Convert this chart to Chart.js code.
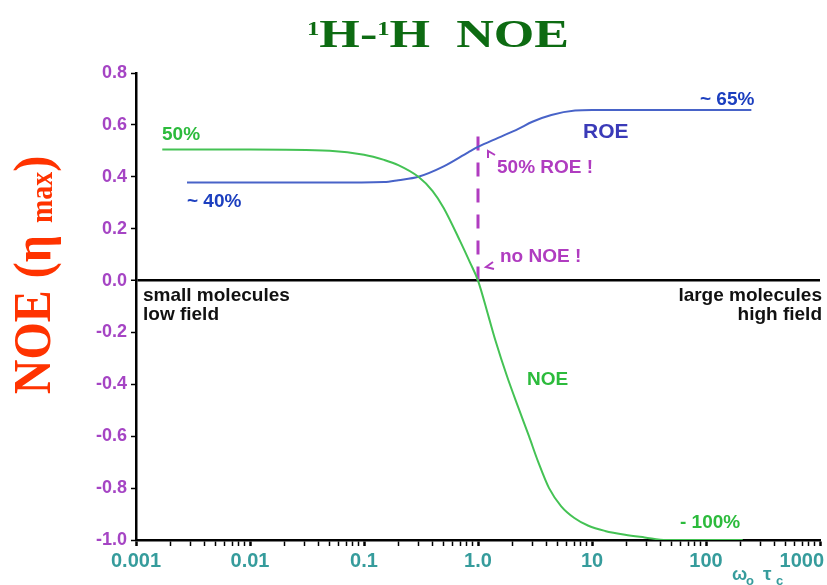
<!DOCTYPE html>
<html>
<head>
<meta charset="utf-8">
<script src="https://cdn.jsdelivr.net/npm/chart.js@4.4.0/dist/chart.umd.min.js"></script>
<style>
  body { margin: 0; background: #fff; }
  canvas { display: block; }
</style>
</head>
<body>
<canvas id="noeChart" width="827" height="585"></canvas>
<script>
// values
const noeX = [0.0017, 0.01, 0.05, 0.1, 0.15, 0.2, 0.3, 0.4, 0.5, 0.7, 0.85, 1.0, 1.24, 1.42, 1.8, 2.26, 2.8, 3.38, 4.2, 5.37, 7, 9.3, 13, 19.5, 29, 45, 210];
const noeY = [0.505, 0.505, 0.50, 0.485, 0.465, 0.445, 0.40, 0.345, 0.28, 0.15, 0.07, 0.0, -0.14, -0.23, -0.37, -0.49, -0.60, -0.70, -0.80, -0.87, -0.915, -0.945, -0.965, -0.98, -0.99, -1.0, -1.0];

const roeX = [0.0028, 0.01, 0.05, 0.15, 0.2, 0.3, 0.5, 0.82, 1.0, 1.5, 2.26, 3, 4.4, 7.1, 10, 50, 250];
const roeY = [0.378, 0.378, 0.378, 0.38, 0.387, 0.40, 0.44, 0.494, 0.515, 0.55, 0.585, 0.612, 0.638, 0.655, 0.657, 0.657, 0.657];

const markerX = [1, 1];
const markerY = [0, 0.57];

const xDecades = [0.001, 0.01, 0.1, 1, 10, 100, 1000];
const xDecadeLabels = ['0.001', '0.01', '0.1', '1.0', '10', '100', '1000'];
const yTicks = [-1.0, -0.8, -0.6, -0.4, -0.2, 0.0, 0.2, 0.4, 0.6, 0.8];

const toPoints = (xs, ys) => xs.map((x, i) => ({ x: x, y: ys[i] }));

const SANS = '"Liberation Sans", Arial, sans-serif';
const SERIF = '"Liberation Serif", "Times New Roman", serif';

// texts, titles and x tick labels
const decorPlugin = {
    id: 'decor',
    afterDraw(chart) {
        const ctx = chart.ctx;
        const xs = chart.scales.x;
        ctx.save();

        // title, stretched a little wider like the original slide
        const parts = [
            { t: '1', sup: true }, { t: 'H-' }, { t: '1', sup: true }, { t: 'H  NOE' }
        ];
        const big = 'bold 40px ' + SERIF, small = 'bold 19px ' + SERIF;
        let total = 0;
        parts.forEach(p => { ctx.font = p.sup ? small : big; p.w = ctx.measureText(p.t).width; total += p.w; });
        const sx = 262 / total;
        ctx.save();
        ctx.translate(307, 0);
        ctx.scale(sx, 1);
        let tx = 0;
        ctx.fillStyle = '#0d6b12';
        ctx.textBaseline = 'alphabetic';
        ctx.textAlign = 'left';
        parts.forEach(p => {
            ctx.font = p.sup ? small : big;
            ctx.fillText(p.t, tx, p.sup ? 35 : 47);
            tx += p.w;
        });
        ctx.restore();

        // y axis title
        ctx.save();
        ctx.translate(50, 275);
        ctx.rotate(-Math.PI / 2);
        ctx.scale(1, 1.12);
        ctx.fillStyle = '#ff3300';
        const yParts = [
            { t: 'NOE (\u03b7 ', f: 'bold 48px ' + SERIF, dy: 0 },
            { t: 'max', f: 'bold 28px ' + SERIF, dy: 2 },
            { t: ')', f: 'bold 48px ' + SERIF, dy: 0 }
        ];
        let yl = 0;
        yParts.forEach(p => { ctx.font = p.f; p.w = ctx.measureText(p.t).width; yl += p.w; });
        let lx = -yl / 2;
        yParts.forEach(p => { ctx.font = p.f; ctx.fillText(p.t, lx, p.dy); lx += p.w; });
        ctx.restore();

        // x tick labels at decades
        ctx.font = 'bold 20px ' + SANS;
        ctx.fillStyle = '#369c9c';
        xDecades.forEach((v, i) => {
            const px = xs.getPixelForValue(v);
            const w = ctx.measureText(xDecadeLabels[i]).width;
            let left = px - w / 2;
            if (left + w > 824) left = 824 - w;
            ctx.fillText(xDecadeLabels[i], left, 567);
        });

        // x axis title
        ctx.font = 'bold 18px ' + SANS;
        ctx.fillText('\u03c9', 732, 580);
        ctx.font = 'bold 13px ' + SANS;
        ctx.fillText('o', 746, 585);
        ctx.font = 'bold 19px ' + SANS;
        ctx.fillText('\u03c4', 763, 580);
        ctx.font = 'bold 13px ' + SANS;
        ctx.fillText('c', 776, 585);

        // annotations
        const note = (txt, x, y, color, size, align) => {
            ctx.font = 'bold ' + size + 'px ' + SANS;
            ctx.fillStyle = color;
            ctx.textAlign = align || 'left';
            ctx.fillText(txt, x, y);
        };
        note('50%', 162, 140, '#2cbb3c', 19);
        note('~ 40%', 187, 207, '#1c3fbf', 19);
        note('~ 65%', 700, 105, '#1c3fbf', 19);
        note('ROE', 583, 138, '#3a3ab8', 21);
        note('50% ROE !', 497, 173, '#b03cc0', 19);
        note('no NOE !', 500, 262, '#b03cc0', 19);
        note('NOE', 527, 385, '#2cbb3c', 19);
        note('- 100%', 680, 528, '#2cbb3c', 19);
        note('small molecules', 143, 301, '#111', 19);
        note('low field', 143, 320, '#111', 19);
        note('large molecules', 822, 301, '#111', 19, 'right');
        note('high field', 822, 320, '#111', 19, 'right');

        // little arrow heads
        ctx.strokeStyle = '#b03cc0';
        ctx.lineWidth = 2;
        ctx.beginPath();
        ctx.moveTo(488, 158); ctx.lineTo(488, 151); ctx.lineTo(495, 155);
        ctx.moveTo(493, 262); ctx.lineTo(486, 267); ctx.lineTo(494, 269);
        ctx.stroke();

        ctx.restore();
    }
};

const ctx = document.getElementById('noeChart').getContext('2d');
const noeChart = new Chart(ctx, {
    type: 'line',
    data: {
        datasets: [{
            label: 'NOE',
            data: toPoints(noeX, noeY),
            borderColor: '#44c254',
            borderWidth: 2,
            pointRadius: 0,
            cubicInterpolationMode: 'monotone',
            fill: false
        }, {
            label: 'ROE',
            data: toPoints(roeX, roeY),
            borderColor: '#4863c8',
            borderWidth: 2,
            pointRadius: 0,
            cubicInterpolationMode: 'monotone',
            fill: false
        }, {
            label: 'marker',
            data: toPoints(markerX, markerY),
            borderColor: '#b03cc0',
            borderWidth: 3,
            borderDash: [14, 12],
            pointRadius: 0,
            fill: false
        }]
    },
    options: {
        responsive: false,
        animation: false,
        devicePixelRatio: 1,
        layout: { padding: { top: 73, right: 7, left: 0, bottom: 0 } },
        plugins: {
            legend: { display: false },
            tooltip: { enabled: false }
        },
        scales: {
            x: {
                type: 'logarithmic',
                min: 0.001,
                max: 1000,
                afterBuildTicks: scale => {
                    const t = [];
                    xDecades.forEach(d => {
                        for (let m = 1; m <= 9; m++) {
                            if (d * m <= 1000) t.push({ value: d * m, major: m === 1 });
                        }
                    });
                    scale.ticks = t;
                },
                afterFit: scale => {
                    scale.height = 45;
                    scale.paddingLeft = 0;
                    scale.paddingRight = 0;
                },
                ticks: {
                    autoSkip: false,
                    maxRotation: 0,
                    callback: () => ''
                },
                grid: {
                    drawOnChartArea: false,
                    tickLength: 6,
                    tickColor: '#000',
                    tickWidth: c => (c.tick && c.tick.major ? 2.5 : 1.5)
                },
                border: { color: '#000', width: 2.5 }
            },
            y: {
                min: -1.0,
                max: 0.8,
                afterBuildTicks: scale => {
                    scale.ticks = yTicks.map(v => ({ value: v }));
                },
                afterFit: scale => { scale.width = 136; },
                ticks: {
                    color: '#a544c4',
                    padding: 4,
                    font: { family: SANS, size: 18, weight: 'bold' },
                    callback: v => v.toFixed(1)
                },
                grid: {
                    color: c => (c.tick && Math.abs(c.tick.value) < 1e-9 ? '#000' : 'rgba(0,0,0,0)'),
                    lineWidth: c => (c.tick && Math.abs(c.tick.value) < 1e-9 ? 2.5 : 1),
                    tickLength: 5,
                    tickColor: '#000',
                    tickWidth: 1.5
                },
                border: { color: '#000', width: 2.5 }
            }
        }
    },
    plugins: [decorPlugin]
});
</script>
</body>
</html>
